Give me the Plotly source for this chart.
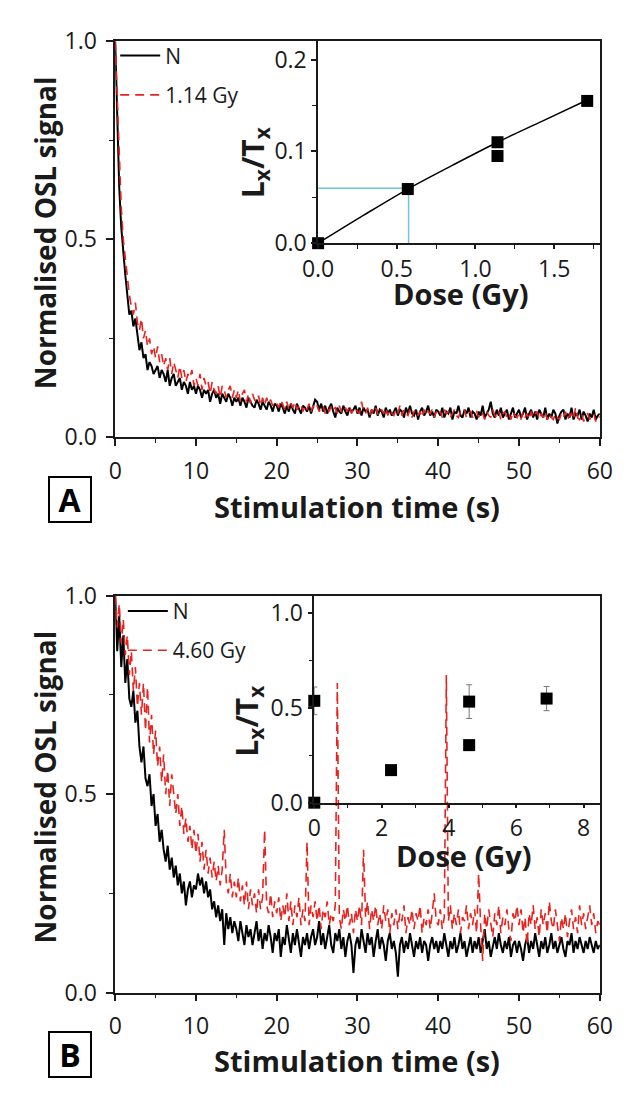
import numpy as np
import plotly.graph_objects as go

# ---------------- data ----------------
time_step = 0.25
time_s = np.round(np.arange(0, 60 + 1e-9, time_step), 2)

# Panel A: natural (N) and regenerated (1.14 Gy) normalised OSL decay
a_natural = [
    1.00, 0.80, 0.63, 0.53, 0.46, 0.41, 0.36, 0.31, 0.32, 0.28, 0.30, 0.26, 0.22, 0.24, 0.20, 0.21, 0.17, 0.19, 0.18, 0.16,
    0.17, 0.18, 0.15, 0.17, 0.16, 0.14, 0.17, 0.13, 0.15, 0.16, 0.13, 0.14, 0.15, 0.12, 0.14, 0.13, 0.11, 0.14, 0.12, 0.13,
    0.11, 0.13, 0.12, 0.10, 0.12, 0.11, 0.12, 0.09, 0.11, 0.12, 0.10, 0.11, 0.085, 0.11, 0.10, 0.09, 0.11, 0.10, 0.08, 0.10,
    0.09, 0.10, 0.08, 0.10, 0.09, 0.075, 0.10, 0.09, 0.08, 0.075, 0.095, 0.085, 0.07, 0.09, 0.08, 0.07, 0.09, 0.08, 0.065, 0.085,
    0.08, 0.065, 0.085, 0.075, 0.06, 0.08, 0.065, 0.085, 0.07, 0.06, 0.085, 0.07, 0.06, 0.08, 0.075, 0.065, 0.08, 0.06, 0.075, 0.095,
    0.09, 0.07, 0.085, 0.065, 0.08, 0.06, 0.075, 0.085, 0.065, 0.05, 0.075, 0.065, 0.06, 0.08, 0.065, 0.055, 0.075, 0.065, 0.07, 0.08,
    0.06, 0.075, 0.055, 0.075, 0.065, 0.07, 0.05, 0.07, 0.06, 0.08, 0.055, 0.07, 0.065, 0.05, 0.075, 0.06, 0.07, 0.055, 0.065, 0.075,
    0.055, 0.07, 0.065, 0.05, 0.075, 0.06, 0.08, 0.06, 0.055, 0.07, 0.045, 0.065, 0.075, 0.055, 0.065, 0.08, 0.055, 0.065, 0.05, 0.07,
    0.065, 0.055, 0.075, 0.05, 0.065, 0.06, 0.075, 0.045, 0.065, 0.06, 0.08, 0.055, 0.05, 0.07, 0.06, 0.075, 0.05, 0.065, 0.06, 0.045,
    0.065, 0.055, 0.08, 0.05, 0.06, 0.07, 0.09, 0.06, 0.05, 0.07, 0.055, 0.075, 0.05, 0.06, 0.07, 0.045, 0.06, 0.075, 0.05, 0.06,
    0.07, 0.05, 0.06, 0.075, 0.045, 0.06, 0.07, 0.05, 0.065, 0.045, 0.07, 0.06, 0.05, 0.075, 0.045, 0.06, 0.05, 0.07, 0.06, 0.035,
    0.055, 0.065, 0.07, 0.045, 0.06, 0.05, 0.075, 0.045, 0.06, 0.055, 0.07, 0.045, 0.065, 0.055, 0.04, 0.06, 0.05, 0.07, 0.045, 0.055,
    0.06,
]
a_dose = [
    1.00, 0.86, 0.68, 0.58, 0.50, 0.45, 0.40, 0.36, 0.33, 0.31, 0.34, 0.29, 0.27, 0.30, 0.25, 0.27, 0.23, 0.25, 0.21, 0.23,
    0.20, 0.23, 0.19, 0.21, 0.18, 0.20, 0.17, 0.20, 0.16, 0.19, 0.17, 0.15, 0.18, 0.15, 0.17, 0.14, 0.16, 0.15, 0.17, 0.13,
    0.15, 0.13, 0.16, 0.12, 0.15, 0.13, 0.14, 0.11, 0.14, 0.12, 0.11, 0.13, 0.10, 0.13, 0.12, 0.10, 0.12, 0.13, 0.10, 0.12,
    0.10, 0.12, 0.09, 0.11, 0.12, 0.09, 0.11, 0.085, 0.11, 0.095, 0.09, 0.105, 0.08, 0.10, 0.08, 0.10, 0.085, 0.095, 0.08, 0.09,
    0.085, 0.075, 0.095, 0.08, 0.07, 0.09, 0.07, 0.085, 0.075, 0.09, 0.07, 0.08, 0.085, 0.065, 0.08, 0.07, 0.085, 0.065, 0.08, 0.07,
    0.08, 0.065, 0.075, 0.08, 0.06, 0.075, 0.065, 0.08, 0.07, 0.075, 0.06, 0.08, 0.065, 0.06, 0.075, 0.065, 0.08, 0.06, 0.07, 0.075,
    0.065, 0.06, 0.09, 0.065, 0.06, 0.075, 0.055, 0.07, 0.06, 0.075, 0.06, 0.055, 0.07, 0.06, 0.075, 0.055, 0.07, 0.06, 0.055, 0.07,
    0.06, 0.08, 0.055, 0.07, 0.06, 0.055, 0.07, 0.05, 0.065, 0.07, 0.055, 0.065, 0.05, 0.07, 0.055, 0.065, 0.06, 0.07, 0.05, 0.065,
    0.055, 0.065, 0.05, 0.07, 0.06, 0.065, 0.05, 0.06, 0.07, 0.055, 0.05, 0.065, 0.06, 0.07, 0.05, 0.06, 0.065, 0.05, 0.06, 0.065,
    0.05, 0.065, 0.06, 0.045, 0.065, 0.055, 0.05, 0.07, 0.055, 0.05, 0.065, 0.045, 0.06, 0.065, 0.05, 0.06, 0.045, 0.065, 0.055, 0.05,
    0.06, 0.045, 0.065, 0.05, 0.06, 0.045, 0.065, 0.05, 0.06, 0.065, 0.045, 0.06, 0.05, 0.065, 0.045, 0.06, 0.05, 0.045, 0.06, 0.05,
    0.045, 0.06, 0.05, 0.065, 0.045, 0.055, 0.06, 0.045, 0.075, 0.05, 0.045, 0.06, 0.04, 0.055, 0.06, 0.045, 0.055, 0.06, 0.04, 0.055,
    0.05,
]

# Panel B: natural (N) and regenerated (4.60 Gy) normalised OSL decay
b_natural = [
    1.00, 0.86, 0.95, 0.82, 0.90, 0.78, 0.84, 0.74, 0.72, 0.76, 0.68, 0.71, 0.62, 0.58, 0.62, 0.54, 0.52, 0.55, 0.47, 0.50,
    0.42, 0.45, 0.38, 0.41, 0.36, 0.33, 0.37, 0.31, 0.34, 0.29, 0.32, 0.27, 0.30, 0.25, 0.28, 0.22, 0.26, 0.28, 0.24, 0.27,
    0.26, 0.30, 0.27, 0.29, 0.25, 0.28, 0.24, 0.26, 0.21, 0.23, 0.19, 0.22, 0.18, 0.21, 0.12, 0.20, 0.16, 0.19, 0.15, 0.18,
    0.16, 0.13, 0.18, 0.15, 0.12, 0.17, 0.14, 0.16, 0.12, 0.15, 0.18, 0.13, 0.16, 0.11, 0.15, 0.13, 0.17, 0.14, 0.10, 0.15,
    0.13, 0.16, 0.09, 0.14, 0.12, 0.17, 0.13, 0.10, 0.15, 0.12, 0.16, 0.13, 0.09, 0.14, 0.12, 0.15, 0.11, 0.14, 0.16, 0.12,
    0.14, 0.18, 0.12, 0.15, 0.11, 0.14, 0.17, 0.12, 0.10, 0.15, 0.13, 0.16, 0.11, 0.14, 0.09, 0.13, 0.15, 0.12, 0.05, 0.12,
    0.14, 0.11, 0.16, 0.13, 0.10, 0.15, 0.12, 0.14, 0.09, 0.13, 0.16, 0.11, 0.14, 0.12, 0.08, 0.13, 0.15, 0.11, 0.13, 0.10,
    0.04, 0.12, 0.14, 0.10, 0.13, 0.11, 0.15, 0.12, 0.09, 0.13, 0.11, 0.14, 0.10, 0.13, 0.12, 0.08, 0.12, 0.14, 0.11, 0.13,
    0.10, 0.13, 0.11, 0.15, 0.12, 0.09, 0.13, 0.11, 0.14, 0.10, 0.12, 0.15, 0.11, 0.13, 0.09, 0.12, 0.14, 0.10, 0.13, 0.11,
    0.14, 0.10, 0.13, 0.16, 0.11, 0.13, 0.09, 0.12, 0.14, 0.11, 0.15, 0.12, 0.10, 0.13, 0.11, 0.14, 0.09, 0.12, 0.13, 0.10,
    0.13, 0.11, 0.08, 0.12, 0.14, 0.10, 0.13, 0.11, 0.15, 0.12, 0.09, 0.13, 0.11, 0.14, 0.10, 0.12, 0.15, 0.11, 0.13, 0.10,
    0.12, 0.14, 0.11, 0.09, 0.13, 0.12, 0.15, 0.10, 0.13, 0.11, 0.14, 0.12, 0.10, 0.13, 0.11, 0.14, 0.12, 0.10, 0.13, 0.11,
    0.12,
]
b_dose = [
    1.00, 0.92, 0.98, 0.88, 0.94, 0.85, 0.90, 0.80, 0.86, 0.76, 0.82, 0.72, 0.78, 0.70, 0.78, 0.66, 0.77, 0.63, 0.70, 0.60,
    0.66, 0.57, 0.62, 0.53, 0.60, 0.50, 0.56, 0.47, 0.55, 0.50, 0.45, 0.50, 0.42, 0.47, 0.40, 0.44, 0.38, 0.42, 0.36, 0.41,
    0.35, 0.40, 0.33, 0.38, 0.31, 0.36, 0.30, 0.34, 0.29, 0.33, 0.28, 0.32, 0.27, 0.31, 0.41, 0.28, 0.25, 0.30, 0.24, 0.28,
    0.24, 0.29, 0.23, 0.27, 0.22, 0.28, 0.21, 0.26, 0.22, 0.25, 0.20, 0.26, 0.21, 0.24, 0.41, 0.22, 0.20, 0.25, 0.19, 0.23,
    0.20, 0.24, 0.18, 0.22, 0.19, 0.25, 0.18, 0.23, 0.17, 0.22, 0.19, 0.24, 0.17, 0.21, 0.18, 0.38, 0.17, 0.22, 0.19, 0.23,
    0.18, 0.22, 0.16, 0.21, 0.19, 0.23, 0.17, 0.20, 0.18, 0.22, 0.78, 0.19, 0.16, 0.21, 0.18, 0.22, 0.17, 0.20, 0.15, 0.21,
    0.18, 0.22, 0.17, 0.36, 0.19, 0.23, 0.16, 0.21, 0.18, 0.22, 0.17, 0.20, 0.16, 0.22, 0.18, 0.21, 0.15, 0.20, 0.17, 0.21,
    0.16, 0.20, 0.18, 0.22, 0.15, 0.19, 0.17, 0.21, 0.16, 0.20, 0.18, 0.22, 0.15, 0.19, 0.17, 0.21, 0.16, 0.20, 0.25, 0.18,
    0.17, 0.21, 0.16, 0.19, 0.80, 0.18, 0.22, 0.16, 0.20, 0.17, 0.21, 0.15, 0.19, 0.18, 0.22, 0.16, 0.20, 0.17, 0.21, 0.15,
    0.30, 0.17, 0.08, 0.20, 0.16, 0.21, 0.18, 0.14, 0.20, 0.17, 0.22, 0.15, 0.19, 0.17, 0.21, 0.16, 0.13, 0.20, 0.18, 0.22,
    0.17, 0.21, 0.15, 0.19, 0.12, 0.20, 0.17, 0.22, 0.16, 0.19, 0.14, 0.21, 0.17, 0.20, 0.15, 0.23, 0.18, 0.16, 0.21, 0.17,
    0.13, 0.19, 0.16, 0.20, 0.14, 0.18, 0.21, 0.16, 0.19, 0.15, 0.22, 0.17, 0.20, 0.16, 0.19, 0.22, 0.17, 0.20, 0.15, 0.18,
    0.17,
]

# Inset A: dose-response (Lx/Tx vs dose)
a_inset_dose = [0.0, 0.57, 1.14, 1.14, 1.71]
a_inset_ratio = [0.0, 0.059, 0.110, 0.095, 0.155]
a_fit_dose = [0.0, 0.285, 0.57, 0.855, 1.14, 1.425, 1.71]
a_fit_ratio = [0.0, 0.030, 0.059, 0.085, 0.110, 0.133, 0.156]
a_de_dose = 0.575
a_de_ratio = 0.060

# Inset B: dose-response (Lx/Tx vs dose) with errors
b_inset_dose = [0.0, 0.0, 2.28, 4.6, 4.6, 6.9]
b_inset_ratio = [0.538, 0.0, 0.172, 0.534, 0.304, 0.55]
b_inset_err = [0.073, 0.0, 0.0, 0.089, 0.02, 0.064]

for s in (a_natural, a_dose, b_natural, b_dose):
    assert len(s) == len(time_s), len(s)

# ---------------- figure ----------------
W, H = 629, 1096
FONT = "Open Sans"
INK = "#1a1a1a"
RED = "#e8231f"
CYAN = "#6cc7da"


def px_x(p):
    return p / W


def px_y(p):
    return 1 - p / H


fig = go.Figure()

# Panel A main
fig.add_trace(go.Scatter(x=time_s, y=a_natural, mode="lines", name="N",
                         line=dict(color="black", width=2), legend="legend", legendgroup="aN",
                         xaxis="x", yaxis="y"))
fig.add_trace(go.Scatter(x=time_s, y=a_dose, mode="lines", name="1.14 Gy",
                         line=dict(color=RED, width=1.6, dash="9px,6px"), legend="legend",
                         legendgroup="aD", xaxis="x", yaxis="y"))
# Panel A inset
fig.add_trace(go.Scatter(x=[0, a_de_dose, a_de_dose], y=[a_de_ratio, a_de_ratio, 0],
                         mode="lines", line=dict(color=CYAN, width=1.5), showlegend=False,
                         xaxis="x2", yaxis="y2"))
fig.add_trace(go.Scatter(x=a_fit_dose, y=a_fit_ratio, mode="lines",
                         line=dict(color="black", width=1.5, shape="spline"), showlegend=False,
                         xaxis="x2", yaxis="y2"))
fig.add_trace(go.Scatter(x=a_inset_dose, y=a_inset_ratio, mode="markers",
                         marker=dict(symbol="square", size=12, color="black"),
                         cliponaxis=False, showlegend=False, xaxis="x2", yaxis="y2"))

# Panel B main
fig.add_trace(go.Scatter(x=time_s, y=b_natural, mode="lines", name="N",
                         line=dict(color="black", width=2), legend="legend2", legendgroup="bN",
                         xaxis="x3", yaxis="y3"))
fig.add_trace(go.Scatter(x=time_s, y=b_dose, mode="lines", name="4.60 Gy",
                         line=dict(color=RED, width=1.6, dash="9px,6px"), legend="legend2",
                         legendgroup="bD", xaxis="x3", yaxis="y3"))
# Panel B inset
fig.add_trace(go.Scatter(x=b_inset_dose, y=b_inset_ratio, mode="markers",
                         marker=dict(symbol="square", size=12, color="black"),
                         error_y=dict(type="data", array=b_inset_err, color="#777777",
                                      thickness=1, width=3),
                         cliponaxis=False, showlegend=False, xaxis="x4", yaxis="y4"))

main_x_dom = [px_x(104), px_x(612)]
a_y_dom = [px_y(433), px_y(25)]
b_y_dom = [px_y(1005), px_y(596)]
ia_x_dom = [px_x(316.7), px_x(612)]
ia_y_dom = [px_y(233), px_y(25)]
ib_x_dom = [px_x(312.7), px_x(612)]
ib_y_dom = [px_y(809.3), px_y(596)]

tickfont = dict(family=FONT, size=23, color=INK)


def axis(domain, rng, dtick, minor_dtick, anchor, fmt=None, mirror=True, ticklen=7,
         standoff=0):
    d = dict(domain=domain, range=rng, dtick=dtick, tick0=0, anchor=anchor,
             ticks="outside", ticklen=ticklen, tickwidth=1.5, tickcolor=INK,
             minor=dict(dtick=minor_dtick, tick0=0, ticks="outside", ticklen=4,
                        tickwidth=1.2, tickcolor=INK),
             showline=True, linewidth=1.5, linecolor=INK, mirror=mirror,
             showgrid=False, zeroline=False, tickfont=tickfont, fixedrange=True,
             ticklabelstandoff=standoff)
    if fmt:
        d["tickformat"] = fmt
    return d


legend_common = dict(xanchor="left", yanchor="top", bgcolor="rgba(0,0,0,0)",
                     borderwidth=0, font=dict(family=FONT, size=21, color=INK),
                     tracegroupgap=9, itemwidth=40)

fig.update_layout(
    width=W, height=H, margin=dict(l=0, r=0, t=0, b=0),
    paper_bgcolor="white", plot_bgcolor="rgba(0,0,0,0)",
    font=dict(family=FONT, color=INK),
    xaxis=axis(main_x_dom, [0, 60], 10, 5, "y", standoff=5),
    yaxis=axis(a_y_dom, [0, 1], 0.5, 0.25, "x", ".1f", standoff=5),
    xaxis2=axis(ia_x_dom, [0, 1.79], 0.5, 0.25, "y2", ".1f", mirror=False, ticklen=4),
    yaxis2=axis(ia_y_dom, [0, 0.22], 0.1, 0.05, "x2", ".1f", mirror=False, ticklen=5),
    xaxis3=axis(main_x_dom, [0, 60], 10, 5, "y3", standoff=5),
    yaxis3=axis(b_y_dom, [0, 1], 0.5, 0.25, "x3", ".1f", standoff=5),
    xaxis4=axis(ib_x_dom, [0, 8.48], 2, 1, "y4", mirror=False, ticklen=4),
    yaxis4=axis(ib_y_dom, [0, 1.094], 0.5, 0.25, "x4", ".1f", mirror=False, ticklen=5),
    legend=dict(x=px_x(104), y=px_y(19), **legend_common),
    legend2=dict(x=px_x(112), y=px_y(591), **legend_common),
    showlegend=True,
)

ann = []


def text(x, y, s, angle=0, size=28):
    ann.append(dict(x=px_x(x), y=px_y(y), xref="paper", yref="paper", text=s,
                    showarrow=False, textangle=angle, xanchor="center", yanchor="middle",
                    font=dict(family=FONT, size=size, color=INK)))


text(358, 504, "<b>Stimulation time (s)</b>", size=29)
text(30, 222, "<b>Normalised OSL signal</b>", angle=-90, size=28)
text(466, 285, "<b>Dose (Gy)</b>", size=29)
text(249, 150, "<b>L<sub>x</sub>/T<sub>x</sub></b>", angle=-90, size=30)

text(358, 1075, "<b>Stimulation time (s)</b>", size=29)
text(30, 793, "<b>Normalised OSL signal</b>", angle=-90, size=28)
text(470, 864, "<b>Dose (Gy)</b>", size=29)
text(243, 725, "<b>L<sub>x</sub>/T<sub>x</sub></b>", angle=-90, size=30)

for lbl, cy in (("A", 496.5), ("B", 1069)):
    ann.append(dict(x=px_x(57), y=px_y(cy), xref="paper", yref="paper",
                    text="<b>%s</b>" % lbl, showarrow=False, xanchor="center",
                    yanchor="middle", width=36, height=39, borderpad=2,
                    bordercolor="black", borderwidth=2,
                    font=dict(family=FONT, size=32, color="black")))

fig.update_layout(annotations=ann)

fig.write_html("out.html")
